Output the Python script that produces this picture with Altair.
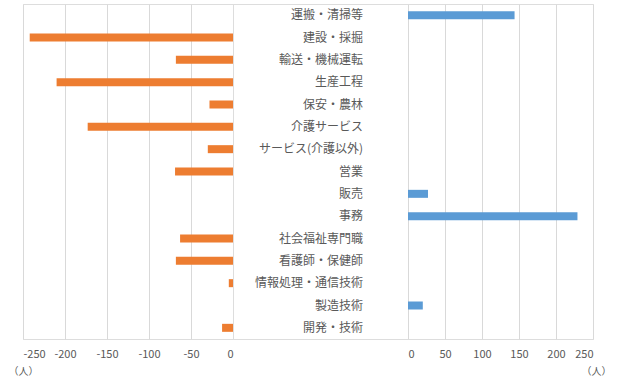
import altair as alt
import pandas as pd

categories = ["運搬・清掃等", "建設・採掘", "輸送・機械運転", "生産工程", "保安・農林",
              "介護サービス", "サービス(介護以外)", "営業", "販売", "事務",
              "社会福祉専門職", "看護師・保健師", "情報処理・通信技術", "製造技術", "開発・技術"]
left_values = [0, -242, -68, -210, -28, -173, -30, -69, 0, 0, -63, -68, -5, 0, -13]
right_values = [144, 0, 0, 0, 0, 0, 0, 0, 27, 229, 0, 0, 0, 20, 0]
left_ticks = [-250, -200, -150, -100, -50, 0]
right_ticks = [0, 50, 100, 150, 200, 250]
unit = "（人）"

df = pd.DataFrame({"cat": categories, "left": left_values, "right": right_values})

FONT = "Noto Sans CJK JP"
GRAY = "#595959"
H = 335

yenc = alt.Y("cat:N", sort=categories, axis=None,
             scale=alt.Scale(domain=categories, paddingInner=0.62, paddingOuter=0.31))

left = alt.Chart(df).mark_bar(color="#ED7D31", size=8).encode(
    x=alt.X("left:Q", scale=alt.Scale(domain=[-250, 0], nice=False),
            axis=alt.Axis(values=left_ticks, title=unit, domain=False, ticks=False,
                          grid=True, gridColor="#d9d9d9", labelColor=GRAY, labelFontSize=11,
                          labelFont=FONT, labelPadding=9,
                          labelExpr="'' + datum.value",
                          titleFont=FONT, titleFontSize=10, titleFontWeight="normal",
                          titleColor=GRAY, titleX=-15, titleY=32, titleAlign="left",
                          titleBaseline="middle", titleAnchor="start")),
    y=yenc,
).properties(width=210, height=H)

mid = alt.Chart(df).mark_text(align="right", baseline="middle", font=FONT,
                              fontSize=12, color=GRAY).encode(
    y=yenc,
    x=alt.value(130),
    text="cat:N",
).properties(width=175, height=H)

right = alt.Chart(df).mark_bar(color="#5B9BD5", size=8).encode(
    x=alt.X("right:Q", scale=alt.Scale(domain=[0, 250], nice=False),
            axis=alt.Axis(values=right_ticks, title=unit, domain=False, ticks=False,
                          grid=True, gridColor="#d9d9d9", labelColor=GRAY, labelFontSize=11,
                          labelFont=FONT, labelPadding=9,
                          titleFont=FONT, titleFontSize=10, titleFontWeight="normal",
                          titleColor=GRAY, titleX=188, titleY=32, titleAlign="center",
                          titleBaseline="middle", titleAnchor="end")),
    y=yenc,
).properties(width=185, height=H)

chart = alt.hconcat(left, mid, right, spacing=0, bounds="flush").properties(
    padding={"left": 7, "top": 3, "right": 5, "bottom": 0}
).configure_view(stroke=None).configure(background="white")

chart.save("out.html", embed_options={"renderer": "svg", "actions": False})
